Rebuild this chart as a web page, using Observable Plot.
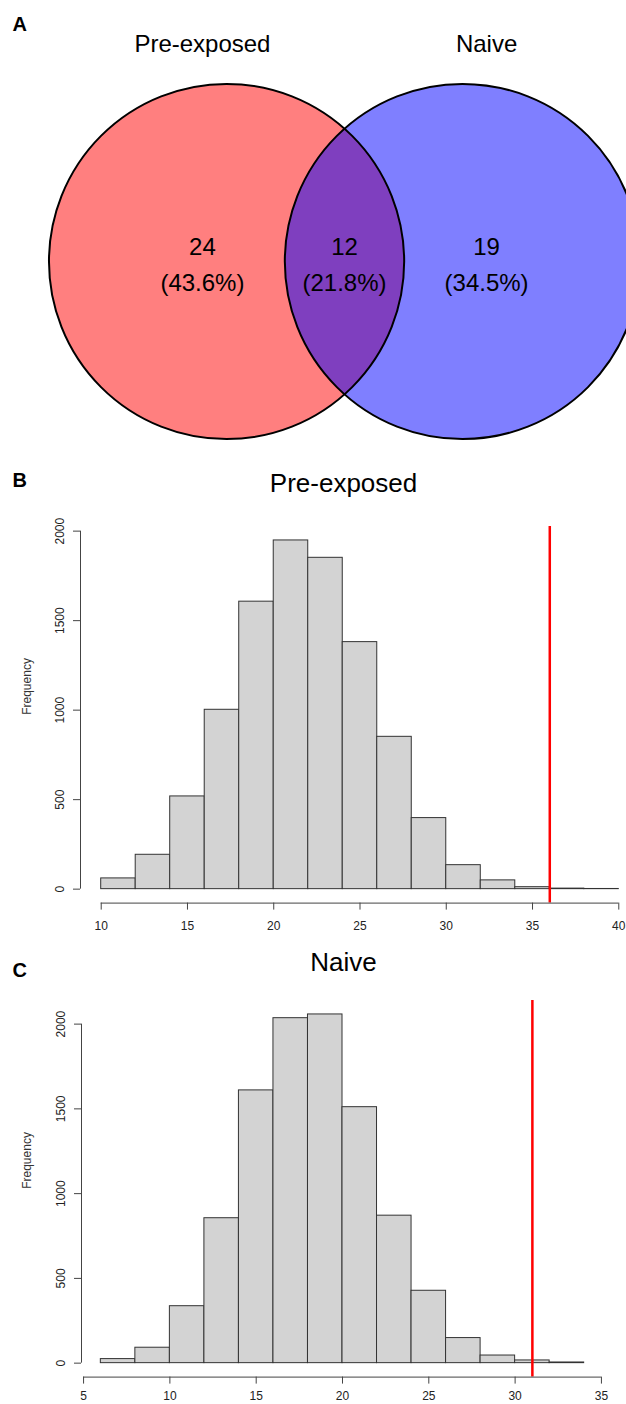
<!DOCTYPE html>
<html>
<head>
<meta charset="utf-8">
<script src="https://cdn.jsdelivr.net/npm/d3@7"></script>
<script src="https://cdn.jsdelivr.net/npm/@observablehq/plot@0.6"></script>
<style>
  html, body { margin: 0; padding: 0; background: #fff; overflow: hidden; }
  #chart { width: 626px; height: 1404px; position: relative; overflow: hidden; }
  #chart svg { display: block; }
</style>
</head>
<body>
<div id="chart"></div>
<script>
// ---------------- data ----------------
const panelLetters = ["A", "B", "C"];

// Venn diagram (panel A)
const setNames = ["Pre-exposed", "Naive"];
const regionNames = ["Pre-exposed only", "Both", "Naive only"];
const regionCounts = [24, 12, 19];

// Histogram B: Pre-exposed (permutation distribution)
const histTitleB = "Pre-exposed";
const breaksB = [10, 12, 14, 16, 18, 20, 22, 24, 26, 28, 30, 32, 34, 36, 38, 40];
const countsB = [60, 192, 518, 1002, 1606, 1948, 1851, 1380, 851, 397, 134, 49, 11, 3, 1];
const observedB = 36;
const xTicksB = [10, 15, 20, 25, 30, 35, 40];

// Histogram C: Naive
const histTitleC = "Naive";
const breaksC = [6, 8, 10, 12, 14, 16, 18, 20, 22, 24, 26, 28, 30, 32, 34];
const countsC = [24, 91, 336, 855, 1609, 2035, 2057, 1510, 870, 427, 148, 45, 16, 4];
const observedC = 31;
const xTicksC = [5, 10, 15, 20, 25, 30, 35];

const yTicks = [0, 500, 1000, 1500, 2000];
const yAxisLabel = "Frequency";

// ---------------- drawing ----------------
const FONT = "Arial, 'Liberation Sans', Helvetica, sans-serif";
const W = 626;
const chart = document.getElementById("chart");

// ---- Panel A: Venn ----
(function () {
  const H = 460;
  const pxPerUnit = 177.6;          // circle radius in px (radius = 1 unit)
  const centre = [344, 261];        // pixel position of the diagram's centre
  const half = 0.664;               // half the distance between circle centres (in radii)
  const labelX = 0.8;               // x of exclusive-region labels (in radii)
  const total = d3.sum(regionCounts);
  const pct = d3.format(".1%");

  const circles = setNames.map((name, i) => ({
    name, cx: i === 0 ? -half : half, cy: 0, fill: i === 0 ? "#ff0000" : "#0000ff"
  }));
  const regions = regionCounts.map((n, i) => ({
    name: regionNames[i], x: (i - 1) * labelX, label: `${n}\n(${pct(n / total)})`
  }));
  const titles = setNames.map((name, i) => ({name, x: i === 0 ? -labelX : labelX}));

  const plot = Plot.plot({
    width: W, height: H,
    margin: 0,
    x: {domain: [(0 - centre[0]) / pxPerUnit, (W - centre[0]) / pxPerUnit], range: [0, W], axis: null},
    y: {domain: [(centre[1] - H) / pxPerUnit, centre[1] / pxPerUnit], range: [H, 0], axis: null},
    color: {type: "identity"},
    style: {fontFamily: FONT, background: "white", overflow: "hidden", color: "black"},
    marks: [
      Plot.dot(circles, {x: "cx", y: "cy", r: pxPerUnit, fill: "fill", fillOpacity: 0.5, stroke: null}),
      Plot.dot(circles, {x: "cx", y: "cy", r: pxPerUnit, fill: "none", stroke: "black", strokeWidth: 2}),
      Plot.text(titles, {x: "x", y: (261 - 51) / pxPerUnit, text: "name", fontSize: 24, lineAnchor: "bottom", fill: "black"}),
      Plot.text(regions, {x: "x", y: (261 - 290.7) / pxPerUnit, text: "label", fontSize: 24, lineHeight: 1.49, lineAnchor: "bottom", fill: "black"}),
      Plot.text([panelLetters[0]], {frameAnchor: "top-left", dx: 12, dy: 30, text: d => d, fontSize: 20, fontWeight: "bold", textAnchor: "start", lineAnchor: "bottom", fill: "black"})
    ]
  });
  chart.appendChild(plot);
})();

// ---- Histograms ----
function histogram({letter, title, breaks, counts, observed, xTicks, top, height, marginLeft, xRange, titleBaseline, letterBaseline, labelBaselineX, xTickPadding}) {
  const marginTop = 66;
  const frameBottom = 442.6;
  const bins = counts.map((c, i) => ({x1: breaks[i], x2: breaks[i + 1], y1: 0, y2: c}));
  const maxC = d3.max(counts);
  const span = breaks[breaks.length - 1] - breaks[0];
  const xDom = [breaks[0] - 0.04 * span, breaks[breaks.length - 1] + 0.04 * span];
  const yDom = [-0.04 * maxC, 1.04 * maxC];
  const frameTop = top + marginTop;
  return Plot.plot({
    width: W, height,
    marginLeft, marginRight: 0, marginTop, marginBottom: height - frameBottom,
    x: {domain: xDom, range: xRange, label: null},
    y: {domain: yDom, label: null},
    style: {fontFamily: FONT, fontSize: "12px", background: "white", overflow: "hidden", color: "#222"},
    marks: [
      Plot.rect(bins, {x1: "x1", x2: "x2", y1: "y1", y2: "y2", fill: "#d3d3d3", stroke: "#333", strokeWidth: 1}),
      Plot.ruleX([observed], {stroke: "#ff0000", strokeWidth: 2.5}),
      Plot.ruleX([xDom[0]], {y1: yTicks[0], y2: yTicks[yTicks.length - 1], stroke: "#444"}),
      Plot.ruleY([yDom[0]], {x1: xTicks[0], x2: xTicks[xTicks.length - 1], stroke: "#444"}),
      Plot.axisY(yTicks, {tickSize: 7, tickPadding: 10, tickRotate: -90, tickFormat: d => String(d), fontSize: 12, label: null, stroke: "#444"}),
      Plot.axisX(xTicks, {tickSize: 7, tickPadding: xTickPadding, tickFormat: d => String(d), fontSize: 12, label: null, stroke: "#444"}),
      Plot.text([yAxisLabel], {frameAnchor: "left", dx: labelBaselineX - marginLeft, rotate: -90, text: d => d, lineAnchor: "bottom", fontSize: 12, fill: "#333"}),
      Plot.text([title], {frameAnchor: "top-left", dx: 343 - marginLeft, dy: titleBaseline - frameTop, text: d => d, fontSize: 26, textAnchor: "middle", lineAnchor: "bottom", fill: "black"}),
      Plot.text([letter], {frameAnchor: "top-left", dx: 12 - marginLeft, dy: letterBaseline - frameTop, text: d => d, fontSize: 20, fontWeight: "bold", textAnchor: "start", lineAnchor: "bottom", fill: "black"})
    ]
  });
}

chart.appendChild(histogram({
  letter: panelLetters[1], title: histTitleB, breaks: breaksB, counts: countsB, observed: observedB,
  xTicks: xTicksB, top: 460, height: 474, marginLeft: 80, xRange: [80, 639],
  titleBaseline: 491.7, letterBaseline: 486.7, labelBaselineX: 30.8, xTickPadding: 11
}));

chart.appendChild(histogram({
  letter: panelLetters[2], title: histTitleC, breaks: breaksC, counts: countsC, observed: observedC,
  xTicks: xTicksC, top: 934, height: 470, marginLeft: 81, xRange: [81, 603],
  titleBaseline: 970, letterBaseline: 976.7, labelBaselineX: 30.8, xTickPadding: 7
}));
</script>
</body>
</html>
